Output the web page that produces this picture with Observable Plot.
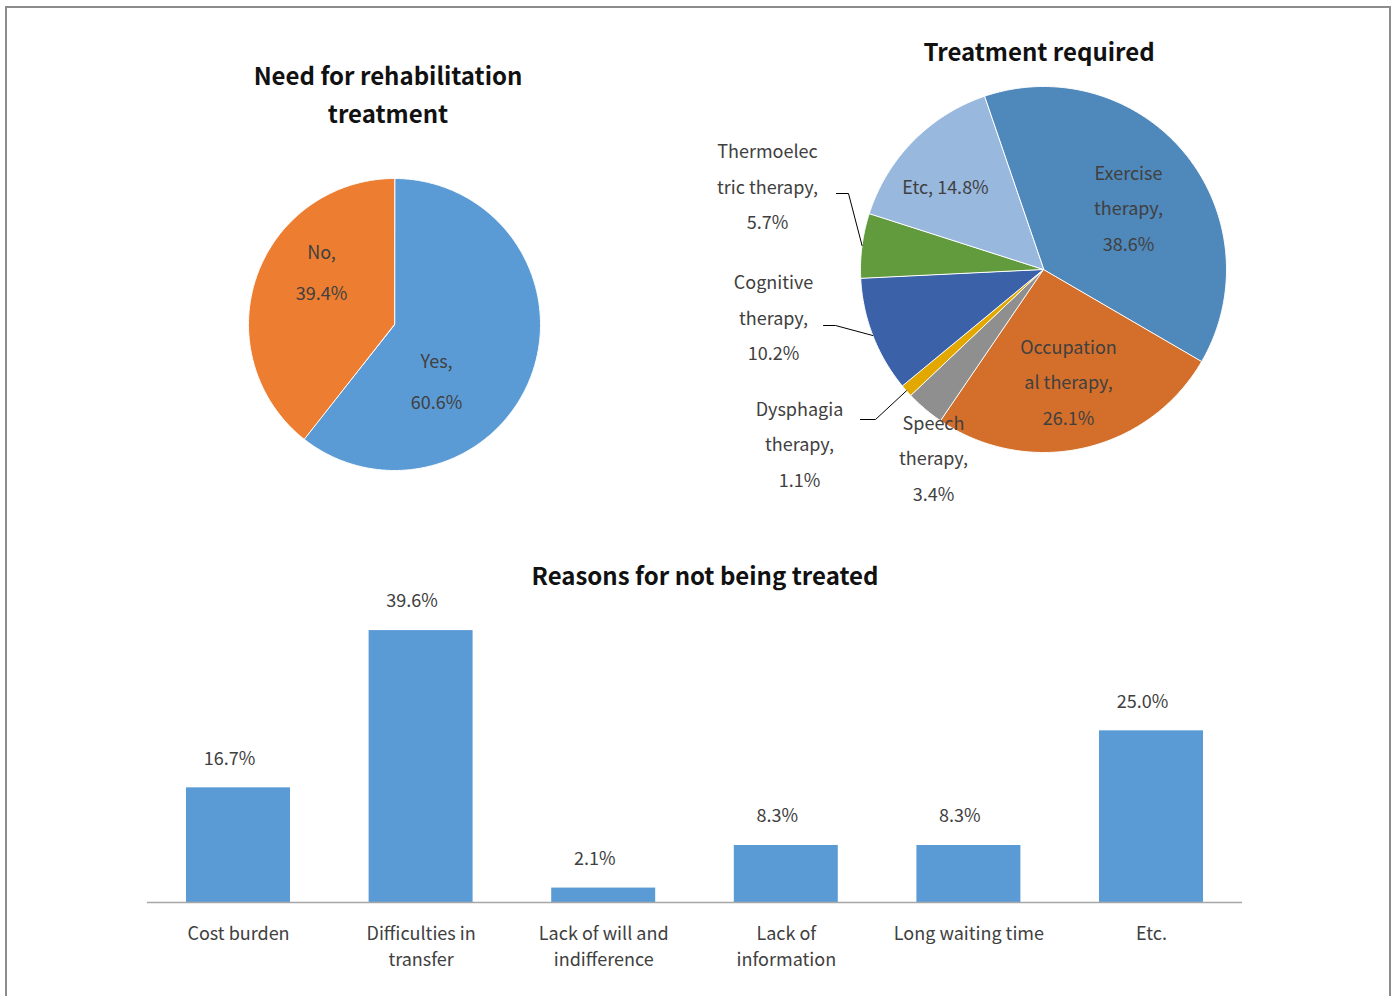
<!DOCTYPE html>
<html>
<head>
<meta charset="utf-8">
<script src="https://cdn.jsdelivr.net/npm/d3@7"></script>
<script src="https://cdn.jsdelivr.net/npm/@observablehq/plot@0.6"></script>
<style>
  html, body { margin: 0; padding: 0; background: #fff; }
  #page { position: relative; width: 1400px; height: 996px; overflow: hidden; background: #fff;
          font-family: 'Noto Sans CJK KR', 'Noto Sans', sans-serif; }
  #frame { position: absolute; left: 5px; top: 6px; width: 1386px; height: 1100px; box-sizing: border-box;
           border: 2px solid #8c8c8c; }
  .title { position: absolute; text-align: center; font-size: 24px; font-weight: 700; color: #111; white-space: nowrap; }
  .chart { position: absolute; }
</style>
</head>
<body>
<div id="page">
  <div id="frame"></div>
  <div class="chart" id="pie1"></div>
  <div class="chart" id="pie2"></div>
  <div class="chart" id="bars"></div>
  <div class="title" style="left:188px; top:56px; width:400px; line-height:38px;">Need for rehabilitation<br>treatment</div>
  <div class="title" style="left:839px; top:32px; width:400px; line-height:38px;">Treatment required</div>
  <div class="title" style="left:455px; top:556px; width:500px; line-height:38px;">Reasons for not being treated</div>
</div>
<script>
// ---------------- DATA ----------------
const needCategories = ["Yes", "No"];
const needValues = [60.6, 39.4];

const treatCategories = ["Exercise therapy", "Occupational therapy", "Speech therapy", "Dysphagia therapy",
                         "Cognitive therapy", "Thermoelectric therapy", "Etc"];
const treatValues = [38.6, 26.1, 3.4, 1.1, 10.2, 5.7, 14.8];
const treatLabelNames = ["Exercise\ntherapy,", "Occupation\nal therapy,", "Speech\ntherapy,", "Dysphagia\ntherapy,",
                         "Cognitive\ntherapy,", "Thermoelec\ntric therapy,", "Etc,"];

const reasonCategories = ["Cost burden", "Difficulties in transfer", "Lack of will and indifference",
                          "Lack of information", "Long waiting time", "Etc."];
const reasonValues = [16.7, 39.6, 2.1, 8.3, 8.3, 25.0];
const reasonTickLabels = ["Cost burden", "Difficulties in\ntransfer", "Lack of will and\nindifference",
                          "Lack of\ninformation", "Long waiting time", "Etc."];

// ---------------- STYLE / LAYOUT ----------------
const FONT = "'Noto Sans CJK KR', 'Noto Sans', sans-serif";
const TEXT = "#404040";
const needColors = ["#5B9BD5", "#ED7D31"];
const treatColors = ["#4F88BB", "#D46F2B", "#8F8F8F", "#E3A800", "#3B62A8", "#629A3E", "#98B8DE"];
const barColor = "#5B9BD5";

// label placement (pixel offsets from each pie's centre)
const needLabelOffsets = [[42, 51], [-73, -58]];
const treatLabelOffsets = [[85, -65.5], [25, 108.5], [-110, 184.5], [-244, 170.5], [-270, 44], [-276, -87], [-98, -87]];
// leader lines: [labelEndX, elbowX, y] offsets, for outside labels
const treatLeaders = {3: [-183, -168, 150], 4: [-220, -208, 56], 5: [-207, -195, -76]};

function fmt(v) { return v.toFixed(1) + "%"; }

function pieGeometry(cats, vals, colors, startDeg, R) {
  const total = d3.sum(vals);
  const pts = [], mids = [];
  let a = startDeg;
  cats.forEach((c, i) => {
    const sweep = vals[i] / total * 360;
    const a0 = a, a1 = a + sweep;
    pts.push({k: c, x: 0, y: 0, c: colors[i]});
    const n = Math.max(2, Math.ceil(sweep * 2));
    for (let j = 0; j <= n; j++) {
      const t = (a0 + (a1 - a0) * j / n) * Math.PI / 180;
      pts.push({k: c, x: R * Math.sin(t), y: -R * Math.cos(t), c: colors[i]});
    }
    mids.push((a0 + a1) / 2);
    a = a1;
  });
  return {pts, mids};
}

// ---------------- PIE 1 ----------------
{
  const R = 146;
  const g = pieGeometry(needCategories, needValues, needColors, 0, R);
  const labels = needCategories.map((c, i) => ({
    x: needLabelOffsets[i][0], y: needLabelOffsets[i][1], text: c + ",\n" + fmt(needValues[i])
  }));
  const svg = Plot.plot({
    width: 300, height: 300, margin: 0,
    x: {domain: [-150, 150], range: [0, 300], axis: null},
    y: {domain: [-150, 150], range: [0, 300], axis: null},
    style: {background: "transparent", overflow: "visible", fontFamily: FONT},
    marks: [
      Plot.line(g.pts, {x: "x", y: "y", z: "k", fill: "c", stroke: "#fff", strokeWidth: 1, curve: "linear-closed"}),
      Plot.text(labels, {x: "x", y: "y", text: "text", fontSize: 18, lineHeight: 2.25, fill: TEXT})
    ]
  });
  const el = document.getElementById("pie1");
  el.style.left = (394 - 150) + "px"; el.style.top = (324 - 150) + "px";
  el.appendChild(svg);
}

// ---------------- PIE 2 ----------------
{
  const R = 183;
  const cx = 1043, cy = 269, left = 690, top = 80, W = 560, H = 432;
  const g = pieGeometry(treatCategories, treatValues, treatColors, -18.9, R);
  const labels = treatCategories.map((c, i) => ({
    x: treatLabelOffsets[i][0], y: treatLabelOffsets[i][1],
    text: treatLabelNames[i] + (treatLabelNames[i].includes("\n") ? "\n" : " ") + fmt(treatValues[i])
  }));
  const leaders = [];
  Object.entries(treatLeaders).forEach(([i, [x0, x1, y]]) => {
    const t = g.mids[+i] * Math.PI / 180;
    leaders.push({k: i, x: x0, y}, {k: i, x: x1, y}, {k: i, x: R * Math.sin(t), y: -R * Math.cos(t)});
  });
  const svg = Plot.plot({
    width: W, height: H, margin: 0,
    x: {domain: [left - cx, left + W - cx], range: [0, W], axis: null},
    y: {domain: [top - cy, top + H - cy], range: [0, H], axis: null},
    style: {background: "transparent", overflow: "visible", fontFamily: FONT},
    marks: [
      Plot.line(g.pts, {x: "x", y: "y", z: "k", fill: "c", stroke: "#fff", strokeWidth: 1, curve: "linear-closed"}),
      Plot.line(leaders, {x: "x", y: "y", z: "k", stroke: "#000", strokeWidth: 1}),
      Plot.text(labels, {x: "x", y: "y", text: "text", fontSize: 18, lineHeight: 1.97, fill: TEXT})
    ]
  });
  const el = document.getElementById("pie2");
  el.style.left = left + "px"; el.style.top = top + "px";
  el.appendChild(svg);
}

// ---------------- BARS ----------------
{
  const data = reasonCategories.map((c, i) => ({reason: c, value: reasonValues[i]}));
  const tickMap = new Map(reasonCategories.map((c, i) => [c, reasonTickLabels[i]]));
  const top = 585;
  const svg = Plot.plot({
    width: 1400, height: 411, marginLeft: 147, marginRight: 158, marginTop: 8, marginBottom: 94,
    x: {domain: reasonCategories, paddingInner: 0.4305, paddingOuter: 0.2136, round: false},
    y: {domain: [0, 45], axis: null},
    style: {background: "transparent", overflow: "visible", fontFamily: FONT, fontSize: "18px"},
    marks: [
      Plot.barY(data, {x: "reason", y: "value", fill: barColor}),
      Plot.ruleY([0], {stroke: "#a6a6a6", strokeWidth: 1.5}),
      Plot.text(data, {x: "reason", y: "value", text: d => fmt(d.value), dy: -29, dx: -9, fontSize: 18, fill: TEXT}),
      Plot.axisX({tickSize: 0, tickPadding: 19, tickFormat: d => tickMap.get(d), fontSize: 18, lineHeight: 1.45,
                  fill: TEXT, label: null})
    ]
  });
  const el = document.getElementById("bars");
  el.style.left = "0px"; el.style.top = top + "px";
  el.appendChild(svg);
}
</script>
</body>
</html>
